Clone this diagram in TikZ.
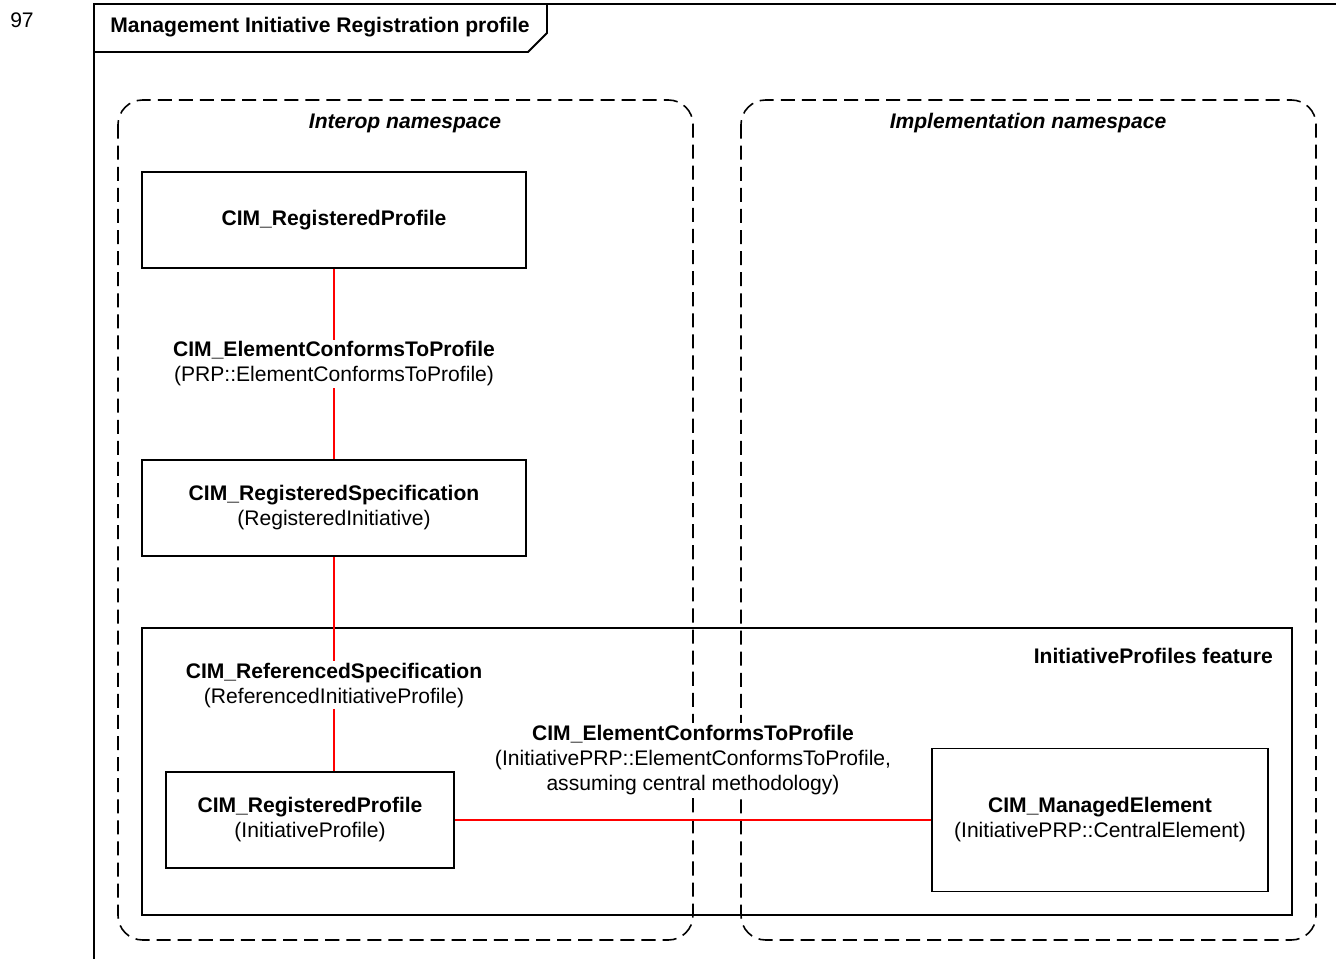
\documentclass[tikz,border=0pt]{standalone}
\usepackage{fontspec}
\setmainfont{Liberation Sans}
\begin{document}
\begin{tikzpicture}[
		x=0.02cm, y=-0.02cm,
		font=\fontsize{12}{14.2}\selectfont,
		cls/.style = {draw, line width=1.1pt, align=center, inner sep=0pt},
		assoc/.style = {red, line width=1pt},
		lbl/.style = {fill=white, text=black, align=center, inner sep=1pt},
		ns/.style = {draw, dash pattern=on 8pt off 4pt, line width=0.9pt, rounded corners=14pt},
	]
	\path[use as bounding box] (0,0) rectangle (1336,959);
	\node (num) at (22,20) {97};
	\draw[line width=1.1pt] (94,959) -- (94,4) -- (1336,4);
	\draw[line width=1.1pt] (94,52) -- (528,52) -- (547,33) -- (547,4);
	\node[font=\fontsize{12}{14.2}\selectfont\bfseries] (title) at (320,27) {Management Initiative Registration profile};
	\draw[ns] (118,100) rectangle (693,940);
	\draw[ns] (741,100) rectangle (1316,940);
	\node[font=\fontsize{12}{14.2}\selectfont\bfseries\itshape] (interop) at (405,123) {Interop namespace};
	\node[font=\fontsize{12}{14.2}\selectfont\bfseries\itshape] (impl) at (1028,123) {Implementation namespace};
	\draw[line width=1.1pt] (142,628) rectangle (1292,915);
	\node[anchor=east, font=\fontsize{12}{14.2}\selectfont\bfseries] (feat) at (1279,656) {InitiativeProfiles feature};
	\node[cls, minimum width=7.68cm, minimum height=1.92cm] (rp) at (334,220) {\textbf{CIM\_RegisteredProfile}};
	\node[cls, minimum width=7.68cm, minimum height=1.92cm] (rs) at (334,508) {\textbf{CIM\_RegisteredSpecification}\\(RegisteredInitiative)};
	\node[cls, minimum width=5.76cm, minimum height=1.92cm] (rpi) at (310,820) {\textbf{CIM\_RegisteredProfile}\\(InitiativeProfile)};
	\node[cls, minimum width=6.72cm, minimum height=2.86cm] (me) at (1100,820) {\textbf{CIM\_ManagedElement}\\(InitiativePRP::CentralElement)};
	\draw[assoc] (rp) -- node[lbl] {\textbf{CIM\_ElementConformsToProfile}\\(PRP::ElementConformsToProfile)} (rs);
	\draw[assoc] (rs) -- node[lbl, pos=0.6] {\textbf{CIM\_ReferencedSpecification}\\(ReferencedInitiativeProfile)} (rs |- rpi.north);
	\draw[assoc] (rpi) -- node[lbl, above=13pt] {\textbf{CIM\_ElementConformsToProfile}\\(InitiativePRP::ElementConformsToProfile,\\assuming central methodology)} (me);
\end{tikzpicture}
\end{document}
